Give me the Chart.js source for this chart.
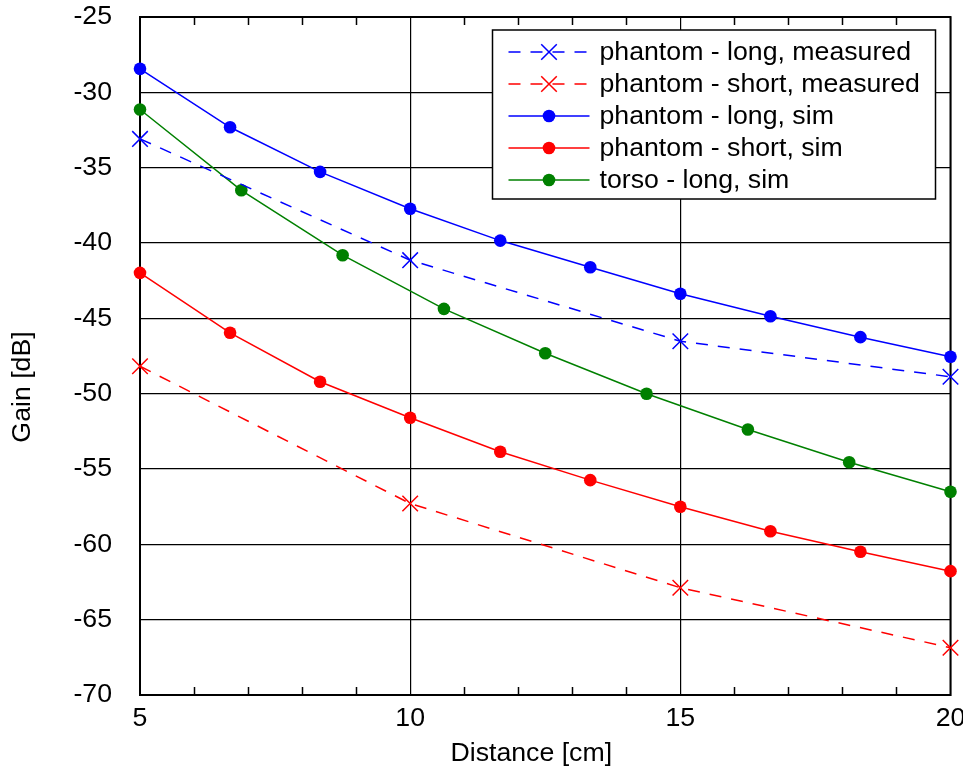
<!DOCTYPE html>
<html>
<head>
<meta charset="utf-8">
<script src="https://cdn.jsdelivr.net/npm/chart.js@4/dist/chart.umd.min.js"></script>
<style>
html,body{margin:0;padding:0;background:#fff;}
canvas{display:block;}
</style>
</head>
<body>
<canvas id="c" width="963" height="778"></canvas>
<script>
// ---- data ----
const distSim = [5, 6.667, 8.333, 10, 11.667, 13.333, 15, 16.667, 18.333, 20];
const distTorso = [5, 6.875, 8.75, 10.625, 12.5, 14.375, 16.25, 18.125, 20];
const distMeasured = [5, 10, 15, 20];

const phantomLongMeasured = [-33.09, -41.14, -46.52, -48.88];
const phantomShortMeasured = [-48.18, -57.29, -62.88, -66.86];
const phantomLongSim = [-28.44, -32.32, -35.28, -37.73, -39.84, -41.61, -43.37, -44.86, -46.25, -47.55];
const phantomShortSim = [-41.98, -45.96, -49.21, -51.60, -53.86, -55.74, -57.51, -59.13, -60.49, -61.78];
const torsoLongSim = [-31.14, -36.50, -40.81, -44.37, -47.32, -50.01, -52.38, -54.55, -56.51];

const seriesLabels = [
  'phantom - long, measured',
  'phantom - short, measured',
  'phantom - long, sim',
  'phantom - short, sim',
  'torso - long, sim'
];
const xTitle = 'Distance [cm]';
const yTitle = 'Gain [dB]';
const xMin = 5, xMax = 20, yMin = -70, yMax = -25;

const FONT = '"Liberation Sans", Arial, Helvetica, sans-serif';
const FS = 26.7;

function pts(xs, ys) { return xs.map((x, i) => ({x: x, y: ys[i]})); }

const BLUE = '#0000ff', RED = '#ff0000', GREEN = '#008000';

const datasets = [
  {label: seriesLabels[0], data: pts(distMeasured, phantomLongMeasured), borderColor: BLUE, backgroundColor: BLUE,
   borderDash: [12, 10], pointStyle: 'crossRot', pointRadius: 11, pointBorderWidth: 1.5, borderWidth: 1.5},
  {label: seriesLabels[1], data: pts(distMeasured, phantomShortMeasured), borderColor: RED, backgroundColor: RED,
   borderDash: [12, 10], pointStyle: 'crossRot', pointRadius: 11, pointBorderWidth: 1.5, borderWidth: 1.5},
  {label: seriesLabels[2], data: pts(distSim, phantomLongSim), borderColor: BLUE, backgroundColor: BLUE,
   pointStyle: 'circle', pointRadius: 6.3, pointBorderWidth: 0, borderWidth: 1.5},
  {label: seriesLabels[3], data: pts(distSim, phantomShortSim), borderColor: RED, backgroundColor: RED,
   pointStyle: 'circle', pointRadius: 6.3, pointBorderWidth: 0, borderWidth: 1.5},
  {label: seriesLabels[4], data: pts(distTorso, torsoLongSim), borderColor: GREEN, backgroundColor: GREEN,
   pointStyle: 'circle', pointRadius: 6.3, pointBorderWidth: 0, borderWidth: 1.5}
];
datasets.forEach(d => { d.fill = false; d.tension = 0; d.clip = false; d.pointHoverRadius = d.pointRadius; });

const framePlugin = {
  id: 'frame',
  beforeDatasetsDraw(chart) {
    const {ctx, chartArea: a, scales: {x}} = chart;
    ctx.save();
    ctx.strokeStyle = '#000';
    ctx.lineWidth = 1.5;
    // minor ticks (inward) at every integer distance
    for (let v = xMin + 1; v < xMax; v++) {
      if (v % 5 === 0) continue;
      const px = Math.round(x.getPixelForValue(v)) + 0.5;
      ctx.beginPath();
      ctx.moveTo(px, a.bottom); ctx.lineTo(px, a.bottom - 8);
      ctx.moveTo(px, a.top); ctx.lineTo(px, a.top + 8);
      ctx.stroke();
    }
    // frame
    ctx.lineWidth = 2;
    ctx.strokeRect(a.left, a.top, a.right - a.left, a.bottom - a.top);
    // axis titles
    ctx.fillStyle = '#000';
    ctx.font = FS + 'px ' + FONT;
    ctx.textAlign = 'center';
    ctx.textBaseline = 'middle';
    ctx.fillText(xTitle, (a.left + a.right) / 2 - 14, 754);
    ctx.translate(23, (a.top + a.bottom) / 2 + 31);
    ctx.rotate(-Math.PI / 2);
    ctx.fillText(yTitle, 0, 0);
    ctx.restore();
  },
  afterDraw(chart) {
    const {ctx, chartArea: a} = chart;
    const bx = a.right - 458, by = a.top + 13, bw = 443, bh = 169;
    ctx.save();
    ctx.fillStyle = '#fff';
    ctx.fillRect(bx, by, bw, bh);
    ctx.strokeStyle = '#000';
    ctx.lineWidth = 1.5;
    ctx.strokeRect(bx, by, bw, bh);
    ctx.font = FS + 'px ' + FONT;
    ctx.textBaseline = 'middle';
    ctx.textAlign = 'left';
    chart.data.datasets.forEach((d, i) => {
      const cy = by + 22 + i * 32;
      const x0 = bx + 16, x1 = bx + 97, xm = (x0 + x1) / 2;
      ctx.strokeStyle = d.borderColor;
      ctx.lineWidth = d.borderWidth;
      ctx.setLineDash(d.borderDash || []);
      ctx.lineDashOffset = d.borderDash ? 0 : 0;
      ctx.beginPath(); ctx.moveTo(x0, cy); ctx.lineTo(x1, cy); ctx.stroke();
      ctx.setLineDash([]);
      ctx.fillStyle = d.backgroundColor;
      if (d.pointStyle === 'circle') {
        ctx.beginPath(); ctx.arc(xm, cy, d.pointRadius, 0, Math.PI * 2); ctx.fill();
      } else {
        ctx.lineWidth = d.pointBorderWidth;
        Chart.helpers.drawPoint(ctx, {pointStyle: d.pointStyle, radius: d.pointRadius, borderWidth: d.pointBorderWidth, rotation: 0}, xm, cy);
      }
      ctx.fillStyle = '#000';
      ctx.fillText(d.label, bx + 107, cy + 1);
    });
    ctx.restore();
  }
};

new Chart(document.getElementById('c'), {
  type: 'line',
  data: {datasets: datasets},
  plugins: [framePlugin],
  options: {
    responsive: false,
    animation: false,
    devicePixelRatio: 1,
    layout: {padding: {top: 17, right: 12, left: 0, bottom: 0}},
    plugins: {legend: {display: false}, tooltip: {enabled: false}},
    scales: {
      x: {
        type: 'linear', min: xMin, max: xMax,
        afterFit(s) { s.height = 83; s.paddingLeft = 0; s.paddingRight = 0; },
        ticks: {
          stepSize: 1, autoSkip: false, maxRotation: 0, padding: 8, color: '#000',
          font: {family: FONT, size: FS},
          callback: v => (v % 5 === 0 ? String(v) : '')
        },
        grid: {
          drawTicks: false, lineWidth: 1.2,
          color: c => (c.tick && c.tick.value % 5 === 0 ? '#000' : 'rgba(0,0,0,0)')
        },
        border: {display: true, color: '#000', width: 2}
      },
      y: {
        type: 'linear', min: yMin, max: yMax,
        afterFit(s) { s.width = 140; s.paddingTop = 0; s.paddingBottom = 0; },
        ticks: {stepSize: 5, padding: 28, color: '#000', font: {family: FONT, size: FS}},
        grid: {drawTicks: false, lineWidth: 1.2, color: '#000'},
        border: {display: true, color: '#000', width: 2}
      }
    }
  }
});
</script>
</body>
</html>
